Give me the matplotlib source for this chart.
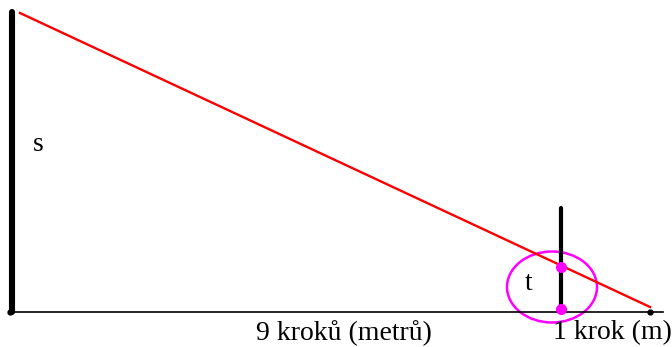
import matplotlib
matplotlib.use("Agg")
import matplotlib.pyplot as plt
from matplotlib.patches import Ellipse

# diagram in pixel units (y up), 672 x 347
base_x = [10, 663]
base_y = 35
pole_x = 12
pole_y = [35, 335]
ray_x = [20, 650]
ray_y = [334, 40]
stick_x = 561
stick_y = [35, 139]
dots_x = [561, 561]
dots_y = [80, 38]
circle_center = (552, 60)
circle_size = (90, 71)
end_dot = (650, 35)

labels = ["s", "t", "9 kroků (metrů)", "1 krok (m)"]
label_pos = [(38, 203), (529, 63), (344, 14), (612, 14)]

fig = plt.figure(figsize=(6.72, 3.47), dpi=100)
ax = fig.add_axes([0, 0, 1, 1])
ax.set_xlim(0, 672)
ax.set_ylim(0, 347)
ax.axis("off")

# baseline
ax.plot(base_x, [base_y, base_y], color="black", lw=1.2)
ax.plot(base_x[0], base_y, "o", color="black", ms=3.5)
ax.plot(*end_dot, "o", color="black", ms=3.5)

# big pole (s)
ax.plot([pole_x, pole_x], pole_y, color="black", lw=4.4, solid_capstyle="round")

# ray
ax.plot(ray_x, ray_y, color="red", lw=1.7)

# small stick (t)
ax.plot([stick_x, stick_x], stick_y, color="black", lw=3.0, solid_capstyle="round")

# magenta circle and points
ax.add_patch(Ellipse(circle_center, circle_size[0], circle_size[1],
                     fill=False, edgecolor="#ff00ff", lw=1.8))
ax.plot(dots_x, dots_y, "o", color="#ff00ff", ms=7)

for txt, (x, y) in zip(labels, label_pos):
    ax.text(x, y, txt, fontsize=20, family="Liberation Serif",
            ha="center", va="center", color="black")

fig.savefig("out.png", dpi=100)
